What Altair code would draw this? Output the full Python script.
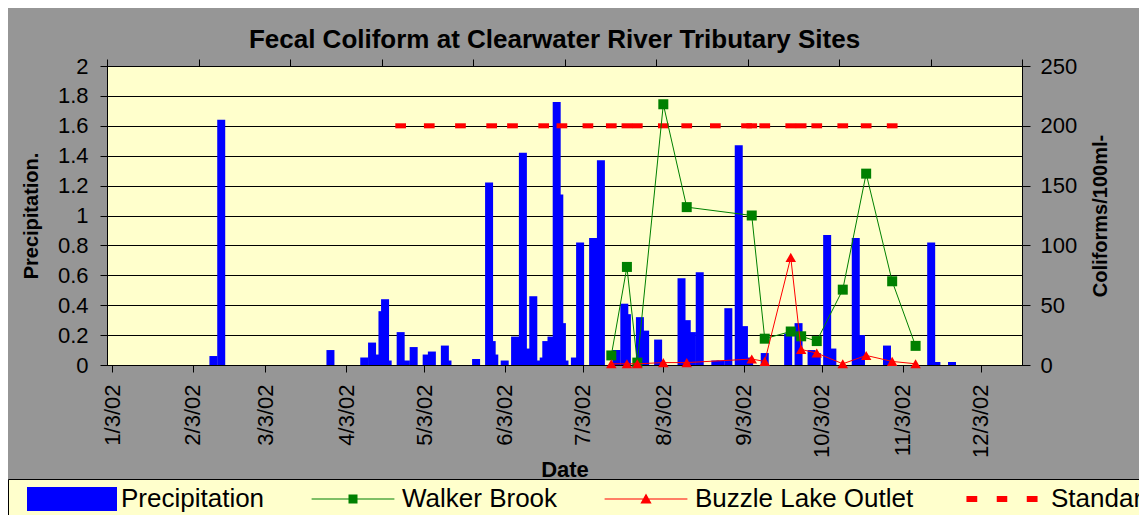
import altair as alt
import pandas as pd

FONT = "Liberation Sans"

# ---------------- data ----------------
precip_dates = [
    "2002-02-11", "2002-02-14", "2002-03-28", "2002-04-10", "2002-04-13", "2002-04-15",
    "2002-04-17", "2002-04-18", "2002-04-19", "2002-04-24", "2002-04-26", "2002-04-29",
    "2002-05-04", "2002-05-06", "2002-05-11", "2002-05-12", "2002-05-23", "2002-05-28",
    "2002-05-29", "2002-05-30", "2002-06-03", "2002-06-07", "2002-06-10", "2002-06-11",
    "2002-06-12", "2002-06-14", "2002-06-16", "2002-06-18", "2002-06-19", "2002-06-21",
    "2002-06-23", "2002-06-24", "2002-06-25", "2002-06-26", "2002-06-30", "2002-07-02",
    "2002-07-07", "2002-07-10", "2002-07-16", "2002-07-19", "2002-07-20", "2002-07-25",
    "2002-07-27", "2002-08-01", "2002-08-10", "2002-08-12", "2002-08-14", "2002-08-17",
    "2002-08-23", "2002-08-25", "2002-08-28", "2002-09-01", "2002-09-03", "2002-09-05",
    "2002-09-11", "2002-09-20", "2002-09-24", "2002-09-29", "2002-10-01", "2002-10-05",
    "2002-10-07", "2002-10-16", "2002-10-18", "2002-10-28", "2002-11-14", "2002-11-16",
    "2002-11-22",
]
precip_values = [
    0.06, 1.64, 0.10, 0.05, 0.15, 0.07,
    0.36, 0.44, 0.03, 0.22, 0.03, 0.12,
    0.07, 0.09, 0.13, 0.03, 0.04, 1.22,
    0.16, 0.07, 0.03, 0.19, 1.42, 0.07,
    0.11, 0.46, 0.03, 0.05, 0.16, 0.19,
    1.76, 1.14, 0.28, 0.03, 0.05, 0.82,
    0.85, 1.37, 0.10, 0.41, 0.34, 0.32,
    0.23, 0.17, 0.58, 0.30, 0.22, 0.62,
    0.03, 0.03, 0.38, 1.47, 0.26, 0.05,
    0.08, 0.21, 0.28, 0.10, 0.08, 0.87,
    0.11, 0.85, 0.20, 0.13, 0.82, 0.02,
    0.02,
]

sample_dates = [
    "2002-07-14", "2002-07-20", "2002-07-24", "2002-08-03", "2002-08-12", "2002-09-06",
    "2002-09-11", "2002-09-21", "2002-09-25", "2002-10-01", "2002-10-11", "2002-10-20",
    "2002-10-30", "2002-11-08",
]
walker_values = [8, 82, 2, 218, 132, 125, 22, 28, 24, 20, 63, 160, 70, 16]
buzzle_values = [1, 1, 1, 2, 2, 5, 3, 90, 13, 10, 1, 8, 3, 1]

standard_dates = [
    "2002-04-24", "2002-05-05", "2002-05-17", "2002-05-29", "2002-06-06", "2002-06-18",
    "2002-06-25", "2002-07-05", "2002-07-14", "2002-07-20", "2002-07-24", "2002-08-03",
    "2002-08-12", "2002-08-23", "2002-09-04", "2002-09-06", "2002-09-11", "2002-09-21",
    "2002-09-25", "2002-10-01", "2002-10-11", "2002-10-20", "2002-10-30",
]
standard_values = [200, 200, 200, 200, 200, 200, 200, 200, 200, 200, 200, 200,
                   200, 200, 200, 200, 200, 200, 200, 200, 200, 200, 200]

series_names = ["Precipitation", "Walker Brook", "Buzzle Lake Outlet", "Standard"]
series_colors = ["#0000FF", "#008000", "#FF0000", "#FF0000"]

left_ticks = [0, 0.2, 0.4, 0.6, 0.8, 1, 1.2, 1.4, 1.6, 1.8, 2]
right_ticks = [0, 50, 100, 150, 200, 250]
top_ticks = [0, 1, 2, 3, 4, 5, 6, 7, 8, 9, 10]

# ---------------- styles ----------------
dash_path = "M-1,-0.47H1V0.47H-1Z"
legend_paths = [
    "M-1,-0.267H1V0.267H-1Z",
    "M-0.92,-0.012H0.92V0.012H-0.92Z M-0.1,-0.1H0.1V0.1H-0.1Z",
    "M-0.92,-0.012H0.92V0.012H-0.92Z M0,-0.12L0.125,0.1H-0.125Z",
    "M-0.79,-0.067H-0.55V0.067H-0.79Z M-0.117,-0.067H0.117V0.067H-0.117Z M0.55,-0.067H0.79V0.067H0.55Z",
]

precip_df = pd.DataFrame({"date": precip_dates, "value": precip_values})
walker_df = pd.DataFrame({"date": sample_dates, "value": walker_values})
buzzle_df = pd.DataFrame({"date": sample_dates, "value": buzzle_values})
standard_df = pd.DataFrame({"date": standard_dates, "value": standard_values})
legend_df = pd.DataFrame({"series": series_names, "value": [-1, -1, -1, -1]})
top_df = pd.DataFrame({"pos": [0]})

date_domain = [alt.DateTime(year=2002, month=1, date=3), alt.DateTime(year=2002, month=12, date=17)]
month_ticks = [alt.DateTime(year=2002, month=m, date=3) for m in range(1, 13)]

x_enc = alt.X(
    "date:T",
    scale=alt.Scale(domain=date_domain),
    axis=alt.Axis(
        orient="bottom", values=month_ticks, format="%-m/%-d/%y",
        labelAngle=270, labelAlign="right", labelBaseline="middle",
        labelFontSize=22, labelPadding=12, tickSize=7, grid=False,
        title="Date", titleFontSize=22, titleFontWeight="bold", titlePadding=2,
    ),
)

left_y = alt.Y(
    "value:Q",
    scale=alt.Scale(domain=[0, 2], nice=False),
    axis=alt.Axis(
        orient="left", values=left_ticks, format="~g", grid=True,
        gridColor="black", gridWidth=1, gridOpacity=1, tickSize=7,
        labelFontSize=22, labelPadding=12,
        title="Precipitation.", titleFontSize=20, titleFontWeight="bold", titlePadding=16,
    ),
)

right_y = alt.Y(
    "value:Q",
    scale=alt.Scale(domain=[0, 250], nice=False),
    axis=alt.Axis(
        orient="right", values=right_ticks, grid=False, tickSize=8,
        labelFontSize=22, labelPadding=10,
        title="Coliforms/100ml-", titleFontSize=20, titleFontWeight="bold",
        titleAngle=270, titleBaseline="top", titlePadding=14,
    ),
)

legend = alt.Legend(
    orient="none", legendX=-99, legendY=413, direction="horizontal",
    title="\u00a0", titleOrient="left", titleFontSize=12, titlePadding=12,
    fillColor="#FFFFCC", strokeColor="black", padding=7,
    labelFontSize=26, labelFont=FONT, labelColor="black", labelOffset=4,
    columnPadding=43, symbolSize=8100, symbolStrokeWidth=0, clipHeight=26,
    labelLimit=0, symbolOpacity=1,
)

bars = alt.Chart(precip_df).mark_bar(color="#0000FF", size=8).encode(x=x_enc, y=left_y)

legend_pts = alt.Chart(legend_df).mark_point(
    filled=True, size=8100, clip=True, strokeWidth=0, opacity=1
).encode(
    y=left_y,
    color=alt.Color("series:N", scale=alt.Scale(domain=series_names, range=series_colors), legend=legend),
    shape=alt.Shape("series:N", scale=alt.Scale(domain=series_names, range=legend_paths), legend=legend),
)

walker_line = alt.Chart(walker_df).mark_line(color="#008000", strokeWidth=1).encode(x=x_enc, y=right_y)
walker_pts = alt.Chart(walker_df).mark_point(
    shape="square", filled=True, size=100, color="#008000", opacity=1
).encode(x=x_enc, y=right_y)
buzzle_line = alt.Chart(buzzle_df).mark_line(color="#FF0000", strokeWidth=1).encode(x=x_enc, y=right_y)
buzzle_pts = alt.Chart(buzzle_df).mark_point(
    shape="triangle-up", filled=True, size=110, color="#FF0000", opacity=1
).encode(x=x_enc, y=right_y)
standard_pts = alt.Chart(standard_df).mark_point(
    shape=dash_path, filled=True, size=115, color="#FF0000", opacity=1
).encode(x=x_enc, y=right_y)

left_group = alt.layer(bars, legend_pts)
right_group = alt.layer(standard_pts, walker_line, walker_pts, buzzle_line, buzzle_pts)
inner = alt.layer(left_group, right_group).resolve_scale(y="independent")

top_axis = alt.Chart(top_df).mark_point(opacity=0).encode(
    x=alt.X(
        "pos:Q",
        scale=alt.Scale(domain=[0, 10], nice=False),
        axis=alt.Axis(orient="top", values=top_ticks, labels=False, tickSize=7,
                      grid=False, title=None),
    )
)

chart = (
    alt.layer(inner, top_axis)
    .resolve_scale(x="independent")
    .properties(
        width=915,
        height=299,
        autosize=alt.AutoSizeParams(type="none"),
        padding={"left": 99, "top": 58, "right": 117, "bottom": 150},
        background="#969696",
        title=alt.TitleParams(
            text="Fecal Coliform at Clearwater River Tributary Sites",
            fontSize=26, font=FONT, fontWeight="bold", color="black",
            anchor="middle", dx=-10, dy=32, offset=13, baseline="alphabetic",
        ),
    )
    .configure_view(fill="#FFFFCC", stroke="black", strokeWidth=1)
    .configure_axis(
        labelFont=FONT, titleFont=FONT, labelColor="black", titleColor="black",
        domainColor="black", tickColor="black", domainWidth=1, tickWidth=1,
    )
)

chart.save("out.html", embed_options={"renderer": "svg", "actions": False})
